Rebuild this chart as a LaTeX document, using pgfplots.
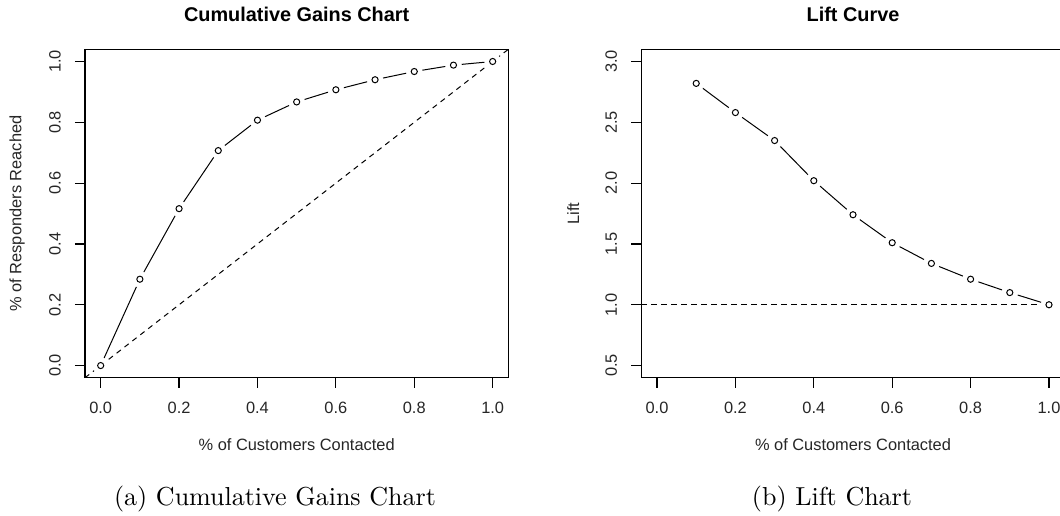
\documentclass[border=0pt]{standalone}
\usepackage{fontspec}
\usepackage{pgfplots}
\usepackage{pgfplotstable}
\pgfplotsset{compat=1.18}
\newfontfamily\arial{Liberation Sans}
\newfontfamily\capfont{lmroman10-regular}[Extension=.otf]

% cumulative share of responders reached per decile of customers contacted
\pgfplotstableread{
x    y
0.0  0.000
0.1  0.284
0.2  0.516
0.3  0.707
0.4  0.807
0.5  0.867
0.6  0.907
0.7  0.940
0.8  0.967
0.9  0.988
1.0  1.000
}\gains

% lift per decile
\pgfplotstableread{
x    y
0.1  2.82
0.2  2.58
0.3  2.35
0.4  2.02
0.5  1.74
0.6  1.51
0.7  1.34
0.8  1.21
0.9  1.10
1.0  1.00
}\lift

\pgfplotsset{
  rplot/.style={
    scale only axis, width=317.5pt, height=246.3pt,
    anchor=south west,
    xmin=-0.04, xmax=1.04,
    axis line style={line width=0.95pt, black},
    tick align=outside, xtick pos=bottom, ytick pos=left,
    major tick length=7.5pt,
    tick style={line width=0.9pt, black},
    xtick={0,0.2,0.4,0.6,0.8,1},
    xticklabels={0.0,0.2,0.4,0.6,0.8,1.0},
    ticklabel style={font=\arial\fontsize{12.3}{14}\selectfont, text=black!85},
    xticklabel style={anchor=center},
    xticklabel shift=15pt,
    yticklabel style={rotate=90, anchor=center},
    yticklabel shift=15pt,
    label style={font=\arial\fontsize{12.3}{14}\selectfont, text=black!85},
    xlabel style={at={(axis description cs:0.5,-0.2026)}, anchor=center},
    ylabel style={at={(axis description cs:-0.1606,0.5)}, anchor=center},
    title style={at={(axis description cs:0.5,1.0825)}, anchor=center,
      font=\arial\bfseries\fontsize{14.9}{17}\selectfont},
    xlabel={\% of Customers Contacted},
  },
  curve/.style={line width=0.75pt, black},
  gap/.style={only marks, mark=*, mark size=6pt, white},
  pts/.style={only marks, mark=o, mark size=2.3pt, mark options={line width=0.75pt, black}},
  ref/.style={line width=0.75pt, black, dash pattern=on 4pt off 3.5pt},
}

\begin{document}
\begin{tikzpicture}
\path[use as bounding box] (0,0) rectangle (795pt,387pt);

\begin{axis}[rplot, at={(63.75pt,103.7pt)},
  ymin=-0.04, ymax=1.04,
  ytick={0,0.2,0.4,0.6,0.8,1},
  yticklabels={0.0,0.2,0.4,0.6,0.8,1.0},
  title={Cumulative Gains Chart},
  ylabel={\% of Responders Reached}]
\addplot[curve] table {\gains};
\addplot[gap] table {\gains};
\addplot[ref] coordinates {(-0.04,-0.04) (1.04,1.04)};
\addplot[pts] table {\gains};
\end{axis}

\begin{axis}[rplot, at={(481pt,103.7pt)},
  ymin=0.4, ymax=3.1,
  ytick={0.5,1,1.5,2,2.5,3},
  yticklabels={0.5,1.0,1.5,2.0,2.5,3.0},
  title={Lift Curve},
  ylabel={Lift}]
\addplot[curve] table {\lift};
\addplot[gap] table {\lift};
\addplot[ref] coordinates {(-0.04,1) (1.04,1)};
\addplot[pts] table {\lift};
\end{axis}

\node[anchor=base, font=\capfont\fontsize{19.5}{23}\selectfont] at (206.25pt,7.7pt) {(a) Cumulative Gains Chart};
\node[anchor=base, font=\capfont\fontsize{19.5}{23}\selectfont] at (624pt,7.7pt) {(b) Lift Chart};
\end{tikzpicture}
\end{document}
